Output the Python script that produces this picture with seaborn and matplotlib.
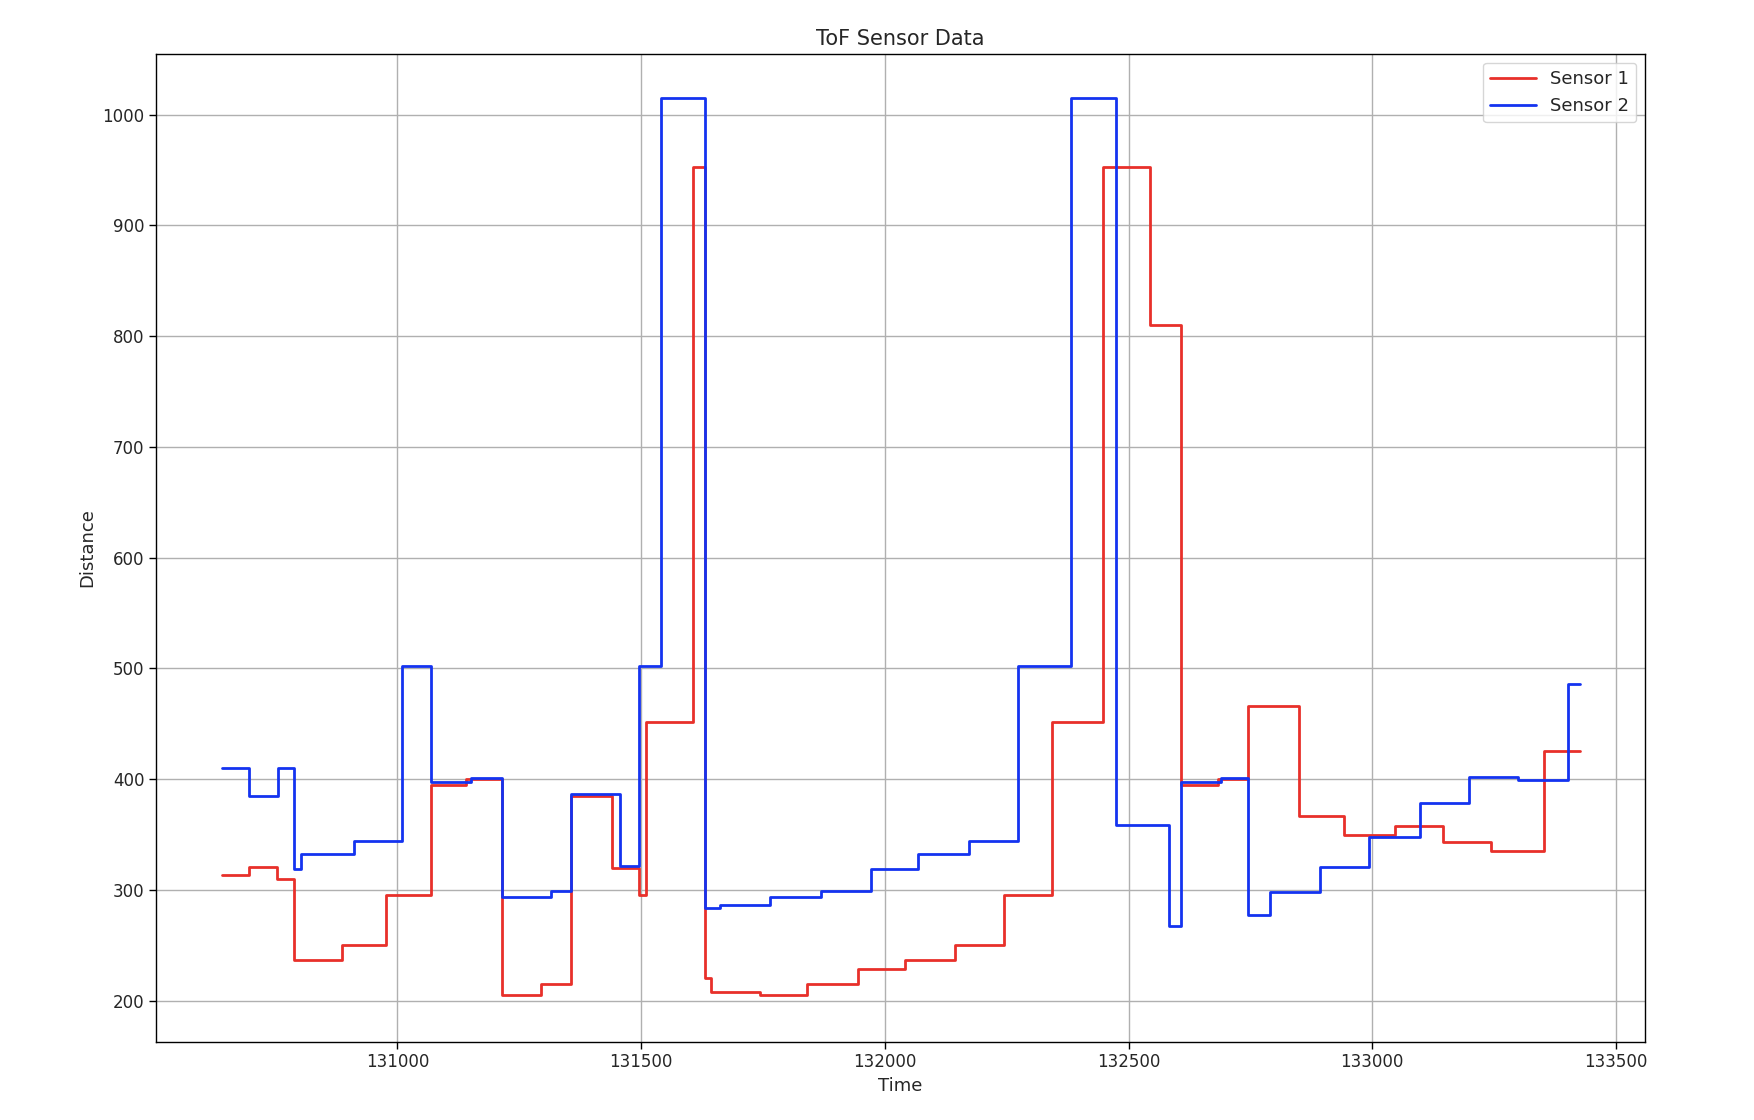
import matplotlib
matplotlib.use("Agg")
import matplotlib.pyplot as plt
import seaborn as sns
import pandas as pd

s1_time = [130641,130696,130753,130788,130887,130977,131069,131141,131214,131295,131357,131440,
           131495,131509,131606,131631,131643,131744,131841,131945,132041,132143,132244,132343,
           132447,132544,132608,132684,132746,132850,132942,133046,133145,133244,133352,133426]
s1_val = [313,321,310,237,250,295,395,400,205,215,385,320,
          295,452,953,220,208,205,215,229,237,250,295,452,
          953,810,395,400,466,367,350,358,343,335,425,425]

s2_time = [130641,130696,130756,130788,130802,130910,131009,131069,131150,131214,131316,131357,
           131456,131495,131541,131631,131661,131765,131869,131972,132069,132173,132274,132382,
           132475,132583,132608,132689,132746,132790,132892,132993,133097,133198,133299,133401,133426]
s2_val = [410,385,410,319,332,344,502,397,401,294,299,387,
          322,502,1015,284,286,294,299,319,332,344,502,1015,
          359,267,397,401,277,298,321,348,378,402,399,486,486]

sns.set_style("white")
plt.rcParams.update({"font.size": 12, "font.family": ["DejaVu Sans"]})
fig = plt.figure(figsize=(17.54, 11.2), dpi=100)
ax = fig.add_axes([0.089, 0.07, 0.849, 0.882])
d1 = pd.DataFrame({"Time": s1_time, "Distance": s1_val})
d2 = pd.DataFrame({"Time": s2_time, "Distance": s2_val})
sns.lineplot(data=d1, x="Time", y="Distance", ax=ax, color="#e8302a", label="Sensor 1",
             drawstyle="steps-post", linewidth=2)
sns.lineplot(data=d2, x="Time", y="Distance", ax=ax, color="#1433f0", label="Sensor 2",
             drawstyle="steps-post", linewidth=2)
ax.set_xticks([131000,131500,132000,132500,133000,133500])
ax.set_yticks(range(200, 1001, 100))
ax.set_xlim(130505, 133560)
ax.set_ylim(163, 1055)
ax.grid(True, color="#b0b0b0", linewidth=1)
for sp in ax.spines.values():
    sp.set_color("black"); sp.set_linewidth(1)
ax.tick_params(axis="both", length=5, width=1, color="black", left=True, bottom=True)
ax.set_title("ToF Sensor Data", fontsize=15)
ax.set_xlabel("Time", fontsize=13)
ax.set_ylabel("Distance", fontsize=13)
ax.legend(loc="upper right", fontsize=13, frameon=True, handlelength=2.5)
fig.savefig("out.png", dpi=100)
